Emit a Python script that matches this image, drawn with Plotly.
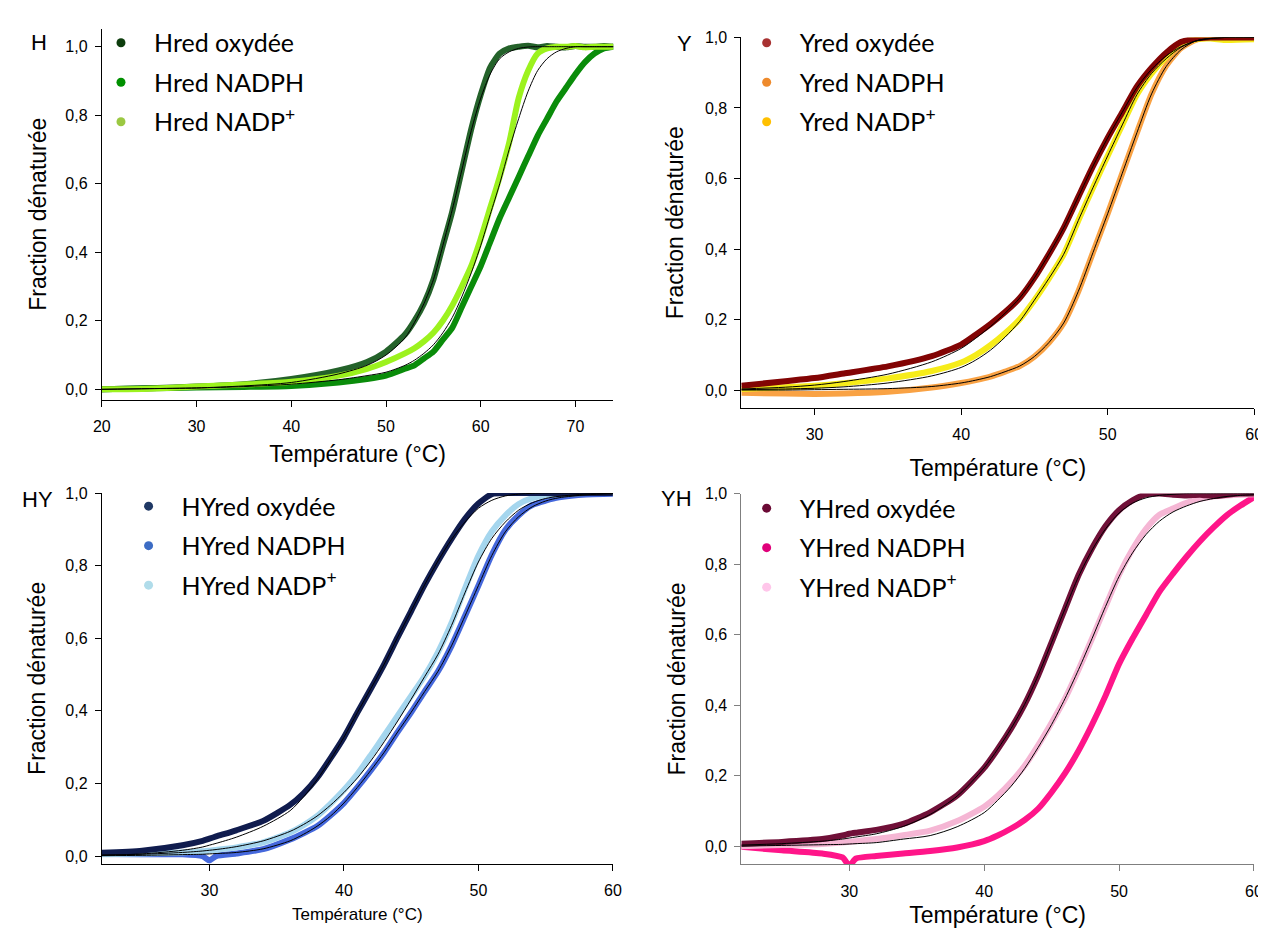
import plotly.graph_objects as go

# ---------------- data ----------------
H_T = [20, 25, 30, 35, 40, 45, 48, 50, 52, 53, 54, 55, 56, 57, 58, 59, 60, 61, 62, 63, 64, 65, 66, 67, 68, 69, 70, 71, 72, 73, 74]
H_oxy = [0.0, 0.003, 0.008, 0.015, 0.03, 0.055, 0.08, 0.11, 0.16, 0.2, 0.25, 0.32, 0.42, 0.52, 0.64, 0.76, 0.86, 0.94, 0.98, 0.995, 1.0, 1.003, 0.998, 1.002, 1.0, 0.998, 1.002, 1.0, 1.0, 1.002, 1.0]
H_oxy_fit = [0.0, 0.002, 0.004, 0.01, 0.02, 0.045, 0.07, 0.1, 0.15, 0.195, 0.25, 0.32, 0.42, 0.525, 0.64, 0.755, 0.85, 0.92, 0.965, 0.985, 0.995, 0.999, 1.0, 1.0, 1.0, 1.0, 1.0, 1.0, 1.0, 1.0, 1.0]
H_nadph = [0.0, 0.003, 0.005, 0.007, 0.01, 0.02, 0.03, 0.04, 0.06, 0.07, 0.09, 0.11, 0.145, 0.18, 0.24, 0.3, 0.36, 0.43, 0.5, 0.56, 0.62, 0.68, 0.74, 0.79, 0.84, 0.88, 0.92, 0.955, 0.98, 0.995, 1.0]
H_nadp = [0.0, 0.002, 0.008, 0.014, 0.022, 0.04, 0.06, 0.08, 0.105, 0.12, 0.14, 0.165, 0.2, 0.245, 0.3, 0.36, 0.44, 0.53, 0.62, 0.72, 0.85, 0.93, 0.98, 0.995, 1.0, 1.0, 1.002, 0.998, 1.0, 1.0, 1.0]
H_nadp_fit = [0.0, 0.002, 0.004, 0.008, 0.015, 0.028, 0.04, 0.05, 0.07, 0.085, 0.105, 0.13, 0.165, 0.21, 0.27, 0.34, 0.42, 0.51, 0.6, 0.7, 0.79, 0.87, 0.93, 0.965, 0.985, 0.995, 1.0, 1.0, 1.0, 1.0, 1.0]

Y_T = [25, 28, 30, 32, 35, 38, 40, 41, 42, 43, 44, 45, 46, 47, 48, 49, 50, 51, 52, 53, 54, 55, 56, 57, 58, 60]
Y_oxy = [0.012, 0.025, 0.034, 0.047, 0.067, 0.096, 0.129, 0.157, 0.187, 0.221, 0.261, 0.318, 0.386, 0.46, 0.548, 0.635, 0.715, 0.788, 0.861, 0.914, 0.957, 0.987, 0.997, 1.0, 1.0, 1.0]
Y_oxy_fit = [0.003, 0.008, 0.014, 0.024, 0.045, 0.08, 0.118, 0.147, 0.18, 0.218, 0.261, 0.318, 0.386, 0.46, 0.548, 0.635, 0.715, 0.788, 0.858, 0.91, 0.948, 0.974, 0.99, 0.997, 1.0, 1.0]
Y_nadph = [-0.008, -0.01, -0.011, -0.01, -0.005, 0.007, 0.02, 0.028, 0.038, 0.052, 0.068, 0.095, 0.135, 0.19, 0.28, 0.39, 0.5, 0.615, 0.73, 0.84, 0.92, 0.97, 0.993, 1.0, 1.0, 1.0]
Y_nadph_fit = [0.0, 0.0, 0.001, 0.002, 0.004, 0.01, 0.02, 0.028, 0.038, 0.052, 0.068, 0.095, 0.135, 0.19, 0.28, 0.39, 0.5, 0.615, 0.73, 0.84, 0.918, 0.965, 0.99, 0.998, 1.0, 1.0]
Y_nadp = [0.003, 0.008, 0.012, 0.019, 0.033, 0.054, 0.078, 0.099, 0.127, 0.161, 0.201, 0.255, 0.317, 0.385, 0.481, 0.574, 0.664, 0.752, 0.838, 0.898, 0.945, 0.983, 0.995, 0.997, 0.993, 0.995]
Y_nadp_fit = [0.001, 0.003, 0.005, 0.009, 0.02, 0.04, 0.064, 0.085, 0.113, 0.15, 0.195, 0.255, 0.317, 0.385, 0.481, 0.574, 0.664, 0.752, 0.838, 0.898, 0.94, 0.972, 0.99, 0.997, 1.0, 1.0]

HY_T = [22, 25, 28, 29.5, 30, 30.5, 32, 34, 36, 37, 38, 39, 40, 41, 42, 43, 44, 45, 46, 47, 48, 49, 50, 51, 52, 53, 54, 55, 56, 58, 60]
HY_oxy = [0.009, 0.015, 0.03, 0.042, 0.048, 0.054, 0.071, 0.097, 0.141, 0.173, 0.215, 0.269, 0.327, 0.395, 0.461, 0.529, 0.603, 0.675, 0.747, 0.813, 0.874, 0.929, 0.971, 0.997, 1.0, 1.0, 1.0, 1.0, 0.998, 1.0, 1.0]
HY_oxy_fit = [0.002, 0.006, 0.016, 0.025, 0.03, 0.035, 0.052, 0.082, 0.125, 0.163, 0.21, 0.266, 0.327, 0.395, 0.461, 0.529, 0.603, 0.675, 0.747, 0.813, 0.872, 0.92, 0.958, 0.98, 0.992, 0.997, 0.999, 1.0, 1.0, 1.0, 1.0]
HY_nadph = [0.006, 0.005, 0.005, 0.0, -0.012, 0.0, 0.007, 0.019, 0.046, 0.063, 0.082, 0.112, 0.146, 0.189, 0.236, 0.286, 0.342, 0.396, 0.453, 0.509, 0.579, 0.661, 0.745, 0.83, 0.898, 0.939, 0.967, 0.979, 0.988, 0.996, 0.998]
HY_nadph_fit = [0.001, 0.002, 0.004, 0.005, 0.006, 0.007, 0.01, 0.02, 0.042, 0.06, 0.082, 0.11, 0.146, 0.189, 0.236, 0.286, 0.342, 0.396, 0.453, 0.509, 0.579, 0.661, 0.745, 0.828, 0.893, 0.935, 0.962, 0.978, 0.987, 0.995, 0.998]
HY_nadp = [0.005, 0.007, 0.01, 0.013, 0.015, 0.017, 0.024, 0.038, 0.065, 0.085, 0.11, 0.144, 0.182, 0.226, 0.278, 0.332, 0.387, 0.441, 0.496, 0.562, 0.642, 0.737, 0.827, 0.894, 0.938, 0.97, 0.986, 0.993, 0.997, 1.0, 1.0]
HY_nadp_fit = [0.003, 0.005, 0.01, 0.014, 0.016, 0.018, 0.026, 0.042, 0.068, 0.087, 0.11, 0.14, 0.175, 0.215, 0.262, 0.315, 0.372, 0.432, 0.494, 0.556, 0.635, 0.725, 0.81, 0.875, 0.92, 0.953, 0.973, 0.985, 0.991, 0.997, 0.999]

YH_T = [22, 25, 28, 29.5, 30, 30.5, 32, 34, 36, 38, 40, 41, 42, 43, 44, 45, 46, 47, 48, 49, 50, 51, 52, 53, 54, 55, 56, 57, 58, 59, 60]
YH_oxy = [0.007, 0.012, 0.02, 0.03, 0.035, 0.038, 0.046, 0.063, 0.096, 0.144, 0.222, 0.275, 0.334, 0.402, 0.484, 0.578, 0.674, 0.769, 0.845, 0.908, 0.953, 0.981, 0.998, 1.0, 0.997, 0.995, 0.997, 0.993, 0.997, 1.0, 1.0]
YH_oxy_fit = [0.003, 0.007, 0.014, 0.02, 0.023, 0.026, 0.035, 0.056, 0.09, 0.142, 0.222, 0.275, 0.334, 0.402, 0.484, 0.578, 0.674, 0.765, 0.84, 0.9, 0.945, 0.973, 0.988, 0.995, 0.998, 1.0, 1.0, 1.0, 1.0, 1.0, 1.0]
YH_nadph = [-0.002, -0.012, -0.021, -0.032, -0.055, -0.035, -0.028, -0.021, -0.014, -0.004, 0.014, 0.03, 0.05, 0.074, 0.106, 0.153, 0.207, 0.271, 0.345, 0.427, 0.517, 0.589, 0.656, 0.722, 0.773, 0.821, 0.865, 0.904, 0.939, 0.966, 0.99]
YH_nadp = [0.0, 0.003, 0.006, 0.01, 0.012, 0.014, 0.02, 0.031, 0.044, 0.071, 0.112, 0.143, 0.182, 0.228, 0.286, 0.35, 0.419, 0.501, 0.589, 0.68, 0.77, 0.842, 0.9, 0.94, 0.958, 0.974, 0.985, 0.992, 0.995, 0.997, 0.998]
YH_nadp_fit = [0.0, 0.002, 0.004, 0.005, 0.006, 0.007, 0.01, 0.02, 0.03, 0.055, 0.095, 0.13, 0.17, 0.22, 0.28, 0.345, 0.419, 0.501, 0.589, 0.68, 0.765, 0.832, 0.884, 0.922, 0.948, 0.965, 0.978, 0.986, 0.992, 0.995, 0.997]

PANEL_LABELS = ["H", "Y", "HY", "YH"]
LEGEND_H = ["Hred oxydée", "Hred NADPH", "Hred NADP<sup>+</sup>"]
LEGEND_Y = ["Yred oxydée", "Yred NADPH", "Yred NADP<sup>+</sup>"]
LEGEND_HY = ["HYred oxydée", "HYred NADPH", "HYred NADP<sup>+</sup>"]
LEGEND_YH = ["YHred oxydée", "YHred NADPH", "YHred NADP<sup>+</sup>"]
X_TITLE = "Température (°C)"
Y_TITLE = "Fraction dénaturée"

# ---------------- figure ----------------
W, Hh = 1266, 928
ARIAL = "Liberation Sans, Arial, sans-serif"
LEG_FONT = "Lato, sans-serif"

fig = go.Figure()

def px_x(p):
    return p / W

def px_y(p):
    return 1 - p / Hh

panels = [
    dict(ax="", T=H_T, series=[
        (H_oxy, H_oxy_fit, "#24622a", "#0d3d0d", LEGEND_H[0]),
        (H_nadph, None, "#0a8c0a", "#009000", LEGEND_H[1]),
        (H_nadp, H_nadp_fit, "#9cf21e", "#9bc842", LEGEND_H[2]),
    ], legend="legend", order=[1, 0, 2]),
    dict(ax="2", T=Y_T, series=[
        (Y_oxy, Y_oxy_fit, "#820404", "#a83232", LEGEND_Y[0]),
        (Y_nadph, Y_nadph_fit, "#f9a244", "#ee8a2c", LEGEND_Y[1]),
        (Y_nadp, Y_nadp_fit, "#f6ec1a", "#ffc000", LEGEND_Y[2]),
    ], legend="legend2", order=[1, 2, 0]),
    dict(ax="3", T=HY_T, series=[
        (HY_oxy, HY_oxy_fit, "#101c4e", "#1f3864", LEGEND_HY[0]),
        (HY_nadph, HY_nadph_fit, "#4568dc", "#3c6cc4", LEGEND_HY[1]),
        (HY_nadp, HY_nadp_fit, "#a5d6ee", "#b0dcea", LEGEND_HY[2]),
    ], legend="legend3", order=[1, 2, 0]),
    dict(ax="4", T=YH_T, series=[
        (YH_oxy, YH_oxy_fit, "#701038", "#6b0a35", LEGEND_YH[0]),
        (YH_nadph, None, "#ff1589", "#e0007a", LEGEND_YH[1]),
        (YH_nadp, YH_nadp_fit, "#f5b6d4", "#ffc6ea", LEGEND_YH[2]),
    ], legend="legend4", order=[1, 2, 0]),
]

for p in panels:
    xa = "x" + p["ax"]
    ya = "y" + p["ax"]
    for i in p["order"]:
        y, fit, dcol, lcol, name = p["series"][i]
        fig.add_trace(go.Scatter(x=p["T"], y=y, mode="lines", xaxis=xa, yaxis=ya,
                                 line=dict(color=dcol, width=6, shape="spline", smoothing=0.6),
                                 showlegend=False, hoverinfo="skip"))
    for i in p["order"]:
        y, fit, dcol, lcol, name = p["series"][i]
        if fit is not None:
            fig.add_trace(go.Scatter(x=p["T"], y=fit, mode="lines", xaxis=xa, yaxis=ya,
                                     line=dict(color="black", width=1, shape="spline", smoothing=0.8),
                                     showlegend=False, hoverinfo="skip"))
    for k, (y, fit, dcol, lcol, name) in enumerate(p["series"]):
        fig.add_trace(go.Scatter(x=[None], y=[None], mode="markers", xaxis=xa, yaxis=ya,
                                 marker=dict(color=lcol, size=9), name=name,
                                 legend=p["legend"], legendgroup=p["legend"] + str(k),
                                 showlegend=True))

def xaxis(dom, rng, ticks, col, title_size, standoff, anchor):
    return dict(domain=dom, range=rng, tickvals=ticks, anchor=anchor, showline=True, linecolor=col,
                linewidth=1, ticks="outside", ticklen=6, tickcolor=col, showgrid=False, zeroline=False,
                tickfont=dict(family=ARIAL, size=16, color="black"), ticklabelstandoff=6,
                title=dict(text=X_TITLE, font=dict(family=ARIAL, size=title_size, color="black"),
                           standoff=standoff))

def yaxis(dom, rng, col, standoff, anchor):
    return dict(domain=dom, range=rng, tickvals=[0, 0.2, 0.4, 0.6, 0.8, 1.0], tickformat=".1f",
                anchor=anchor, showline=True, linecolor=col, linewidth=1, ticks="outside", ticklen=6,
                tickcolor=col, showgrid=False, zeroline=False,
                tickfont=dict(family=ARIAL, size=16, color="black"), ticklabelstandoff=4,
                title=dict(text=Y_TITLE, font=dict(family=ARIAL, size=23, color="black"), standoff=standoff))

layout = dict(
    width=W, height=Hh, margin=dict(l=0, r=0, t=0, b=0),
    paper_bgcolor="white", plot_bgcolor="white", separators=", ",
    xaxis=xaxis([px_x(86), px_x(605)], [20, 74], [20, 30, 40, 50, 60, 70], "black", 23, 12, "y"),
    yaxis=yaxis([px_y(387.3), px_y(13)], [-0.0298, 1.052], "black", 12, "x"),
    xaxis2=xaxis([px_x(734.8), px_x(1255)], [25, 60], [30, 40, 50, 60], "black", 23, 17, "y2"),
    yaxis2=yaxis([px_y(395.7), px_y(21.7)], [-0.0506, 1.0], "black", 14, "x2"),
    xaxis3=xaxis([px_x(86), px_x(604.5)], [22, 60], [30, 40, 50, 60], "black", 17, 10, "y3"),
    yaxis3=yaxis([px_y(856), px_y(481.7)], [-0.021, 1.0], "black", 13, "x3"),
    xaxis4=xaxis([px_x(734.8), px_x(1254.8)], [22, 60], [30, 40, 50, 60], "#7f7f7f", 23, 8, "y4"),
    yaxis4=yaxis([px_y(856.7), px_y(482.3)], [-0.0518, 1.0], "#7f7f7f", 12, "x4"),
    showlegend=True,
)

leg_pos = {"legend": (105, 28), "legend2": (760, 28), "legend3": (133, 496), "legend4": (760, 498)}
for lid, (dx, dy) in leg_pos.items():
    layout[lid] = dict(x=px_x(dx - 33), y=px_y(dy - 24), xanchor="left", yanchor="top",
                       bgcolor="rgba(0,0,0,0)", borderwidth=0, tracegroupgap=4, itemwidth=56,
                       font=dict(family=LEG_FONT, size=25, color="black"))

fig.update_layout(**layout)

label_pos = [(22, 27), (677, 28), (21, 488), (669, 487)]
for txt, (lx, ly) in zip(PANEL_LABELS, label_pos):
    fig.add_annotation(text=txt, x=px_x(lx), y=px_y(ly), xref="paper", yref="paper",
                       showarrow=False, xanchor="center", yanchor="middle",
                       font=dict(family=ARIAL, size=22, color="black"))

fig.write_html("out.html")
